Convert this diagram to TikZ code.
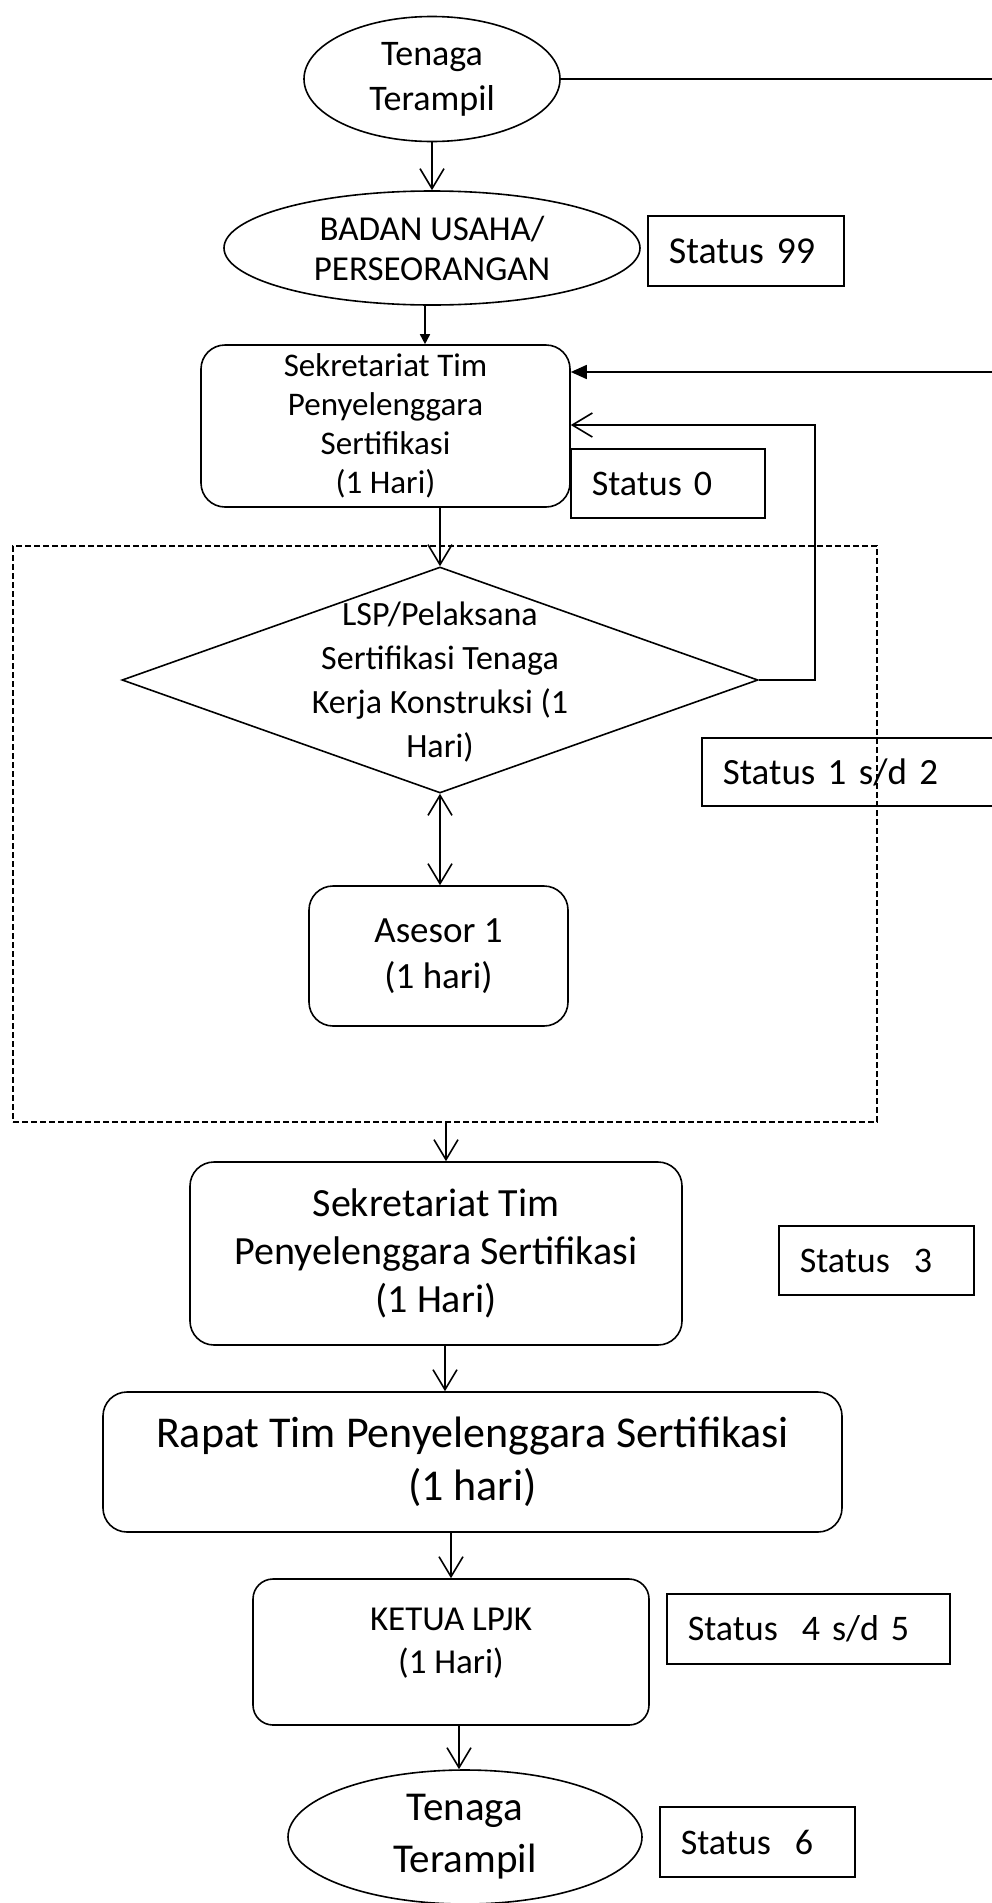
\documentclass[tikz,border=0pt]{standalone}
\usepackage{fontspec}
\setmainfont{Carlito}
\usetikzlibrary{shapes.geometric,arrows.meta,positioning}

\begin{document}
\begin{tikzpicture}[x=1pt,y=-1pt,line width=1.6pt,
        >={Straight Barb[length=20pt,width=24pt]},
        oval/.style={ellipse,draw,inner sep=0pt,align=center},
        procbox/.style={rectangle,draw,rounded corners=24pt,align=center},
        statusbox/.style={rectangle,draw,inner xsep=21pt,inner ysep=0pt,align=left,anchor=west,font=\fontsize{36}{43}\selectfont},
        decision/.style={diamond,draw,inner sep=0pt},
        groupbox/.style={rectangle,draw,line width=1.2pt,dash pattern=on 6pt off 3pt}]
        \useasboundingbox (0,0) rectangle (992,1903);
        \clip (0,0) rectangle (992,1903);

        \node[oval,minimum width=256pt,minimum height=125pt,font=\fontsize{36}{45}\selectfont] (start) at (432,79) {Tenaga\\Terampil};
        \node[oval,minimum width=416pt,minimum height=114pt,font=\fontsize{35}{40}\selectfont] (badan) at (432,248) {BADAN USAHA/\\PERSEORANGAN};
        \node[statusbox,text width=154pt,minimum height=70pt,font=\fontsize{38}{44}\selectfont] (st99) at (647,251) {Status 99};
        \node[procbox,minimum width=369pt,minimum height=162pt,font=\fontsize{33}{39}\selectfont] (sek1) at (385.5,426) {Sekretariat Tim\\Penyelenggara\\Sertifikasi\\(1 Hari)};
        \node[statusbox,text width=152pt,minimum height=69pt] (st0) at (570,483.5) {Status 0};

        \node[groupbox,minimum width=864pt,minimum height=576pt] (grp) at (445,834) {};
        \node[decision,minimum width=636pt,minimum height=226pt] (lsp) at (440,680) {};
        \node[align=center,font=\fontsize{34}{44}\selectfont] (lsptxt) at (440,682) {LSP/Pelaksana\\Sertifikasi Tenaga\\Kerja Konstruksi (1\\Hari)};
        \node[statusbox,text width=300pt,minimum height=68pt,font=\fontsize{37}{44}\selectfont] (st12) at (701,772) {Status 1 s/d 2};
        \node[procbox,minimum width=259pt,minimum height=140pt,font=\fontsize{37}{46}\selectfont] (asesor) at (438.5,956) {Asesor 1\\(1 hari)};

        \node[procbox,minimum width=492pt,minimum height=183pt,font=\fontsize{40}{48}\selectfont] (sek2) at (436,1253.5) {Sekretariat Tim\\Penyelenggara Sertifikasi\\(1 Hari)};
        \node[statusbox,text width=153pt,minimum height=69pt] (st3) at (778,1260.5) {Status\ \ 3};
        \node[procbox,minimum width=739pt,minimum height=140pt,font=\fontsize{44}{53}\selectfont] (rapat) at (472.5,1462) {Rapat Tim Penyelenggara Sertifikasi\\(1 hari)};
        \node[procbox,rounded corners=20pt,minimum width=396pt,minimum height=146pt] (ketua) at (451,1652) {};
        \node[align=center,font=\fontsize{35}{43}\selectfont] (ketuatxt) at (451,1643) {KETUA LPJK\\(1 Hari)};
        \node[statusbox,text width=241pt,minimum height=70pt] (st45) at (666,1629) {Status\ \ 4 s/d 5};
        \node[oval,minimum width=354pt,minimum height=134pt,font=\fontsize{41}{52}\selectfont] (end) at (465,1837) {Tenaga\\Terampil};
        \node[statusbox,text width=153pt,minimum height=70pt] (st6) at (659,1842) {Status\ \ 6};

        \coordinate (edgeA) at (992,75);
        \coordinate (edgeB) at (992,372);
        \coordinate (loopc) at (815,425);

        \draw (start.east) -- (start.east -| edgeA);
        \draw[->] (start) -- (badan);
        \draw[-{Triangle[length=10pt,width=10pt]}] ([xshift=-7pt]badan.south) -- ([xshift=-7pt]badan.south |- sek1.north);
        \draw[-{Triangle[length=16pt,width=14pt]}] (edgeB) -- (edgeB -| sek1.east);
        \draw[->] (lsp.east) -| (loopc) -- (loopc -| sek1.east);
        \draw[->] (lsp.north |- sek1.south) -- (lsp.north);
        \draw[<->] (lsp.south) -- (lsp.south |- asesor.north);
        \draw[->] ([xshift=1pt]grp.south) -- ([xshift=1pt]grp.south |- sek2.north);
        \draw[->] (grp.south |- sek2.south) -- (grp.south |- rapat.north);
        \draw[->] (ketua.north |- rapat.south) -- (ketua.north);
        \draw[->] ([xshift=8pt]ketua.south) -- ([xshift=8pt]ketua.south |- end.north);
    \end{tikzpicture}
\end{document}
